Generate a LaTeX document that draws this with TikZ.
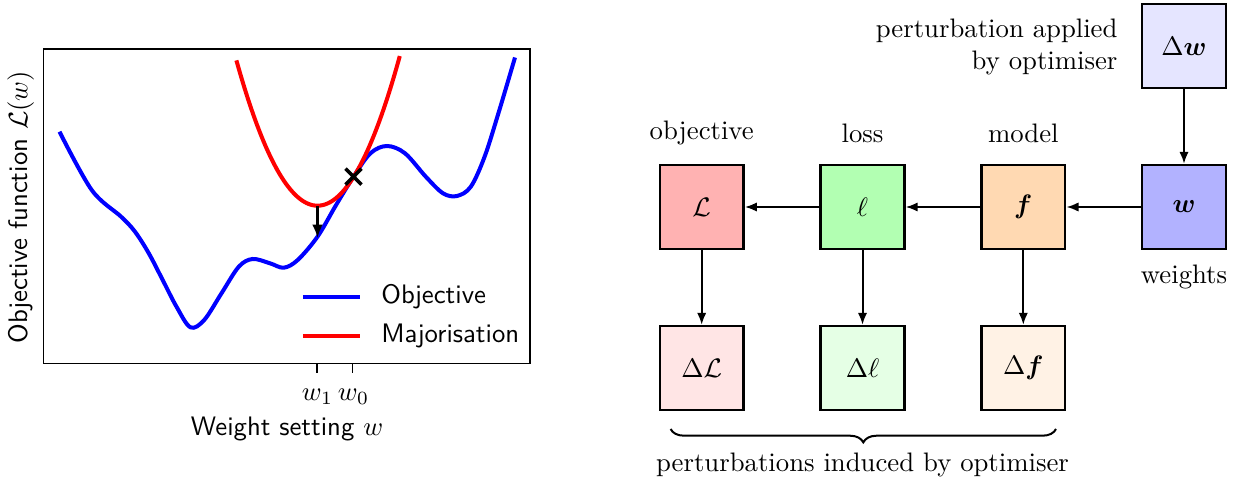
\documentclass[tikz,border=0pt]{standalone}
\usepackage{amsmath,bm}
\usetikzlibrary{arrows.meta,decorations.pathreplacing}
\begin{document}
\begin{tikzpicture}[x=0.374pt,y=-0.374pt,
  box/.style={draw,line width=0.9pt,minimum width=31.4pt,minimum height=31.4pt,inner sep=0pt},
  arr/.style={-{Latex[length=4.5pt,width=3.5pt]},line width=0.75pt},
  lbl/.style={inner sep=0pt},
  plotfont/.style={font=\sffamily},
  curve/.style={line width=1.5pt}]
\useasboundingbox (0,0) rectangle (1237,482);
% ---------- left plot ----------
\draw[line width=0.6pt] (43.5,49) rectangle (530,363.5);
\draw[line width=0.6pt] (316.7,363.5) -- (316.7,373) (352.3,363.5) -- (352.3,373);
\node[lbl] (tw1) at (317.5,396.7) {$w_1$};
\node[lbl] (tw0) at (353.5,396.7) {$w_0$};
\node[lbl,plotfont] (xlab) at (287,429) {Weight setting $w$};
\node[lbl,plotfont,rotate=90] (ylab) at (20.8,207) {Objective function $\mathcal{L}(w)$};
\draw[blue,curve] plot[smooth,tension=0.55] coordinates {
 (59.5,131.7) (91.7,190) (121.1,216.7) (135,231.7) (148.8,253.3) (162.7,280)
 (176.5,306.7) (190.4,327.3) (204.2,320) (221.5,293.3) (238.8,266.7) (252.7,259)
 (270,263.3) (283.8,267.7) (297.7,260) (317.5,236.7) (335.8,205.5) (353.5,176.7)
 (370.4,153.3) (387,146) (405,153.3) (425.8,176.7) (443,193.3) (456.9,196)
 (470.8,186.7) (484.6,156.7) (498.4,113.3) (515,57.5)};
\draw[red,curve,domain=236.4:399.8,samples=80] plot (\x,{205.7-0.0221*(\x-317.5)^2});
\draw[-{Latex[length=5pt,width=4pt]},line width=0.9pt] (317.5,206) -- (317.5,238);
\draw[line width=1.3pt] (345.5,168.7) -- (361.5,184.7) (345.5,184.7) -- (361.5,168.7);
\draw[blue,curve] (302.9,296.7) -- (360,296.7);
\node[lbl,plotfont,anchor=west] (legobj) at (380.8,296.7) {Objective};
\draw[red,curve] (302.9,335.7) -- (360,335.7);
\node[lbl,plotfont,anchor=west] (legmaj) at (380.8,335.7) {Majorisation};
% ---------- right diagram ----------
\node[box,fill=red!30] (L) at (701.7,207) {$\mathcal{L}$};
\node[box,fill=green!30] (l) at (862.5,207) {$\ell$};
\node[box,fill=orange!30] (f) at (1023.3,207) {$\boldsymbol{f}$};
\node[box,fill=blue!30] (w) at (1184,207) {$\boldsymbol{w}$};
\node[box,fill=blue!10] (dw) at (1184,46) {$\Delta\boldsymbol{w}$};
\node[box,fill=red!10] (dL) at (701.7,368) {$\Delta\mathcal{L}$};
\node[box,fill=green!10] (dl) at (862.5,368) {$\Delta\ell$};
\node[box,fill=orange!10] (df) at (1023.3,368) {$\Delta\boldsymbol{f}$};
\node (tobj) at (701.7,133) {objective};
\node (tloss) at (862.5,133) {loss};
\node (tmodel) at (1023.3,133) {model};
\node (tweights) at (1184,277) {weights};
\node[align=right,anchor=east,inner sep=0pt] (tpert) at (1118,47) {perturbation applied\\by optimiser};
\draw[arr] (dw) -- (w);
\draw[arr] (w) -- (f);
\draw[arr] (f) -- (l);
\draw[arr] (l) -- (L);
\draw[arr] (L) -- (dL);
\draw[arr] (l) -- (dl);
\draw[arr] (f) -- (df);
\coordinate (bl) at (670.6,429);
\coordinate (br) at (1056,429);
\draw[decorate,decoration={brace,amplitude=5pt},line width=0.75pt] (br) -- (bl);
\node (tinduced) at (862.5,465) {perturbations induced by optimiser};
\end{tikzpicture}
\end{document}
